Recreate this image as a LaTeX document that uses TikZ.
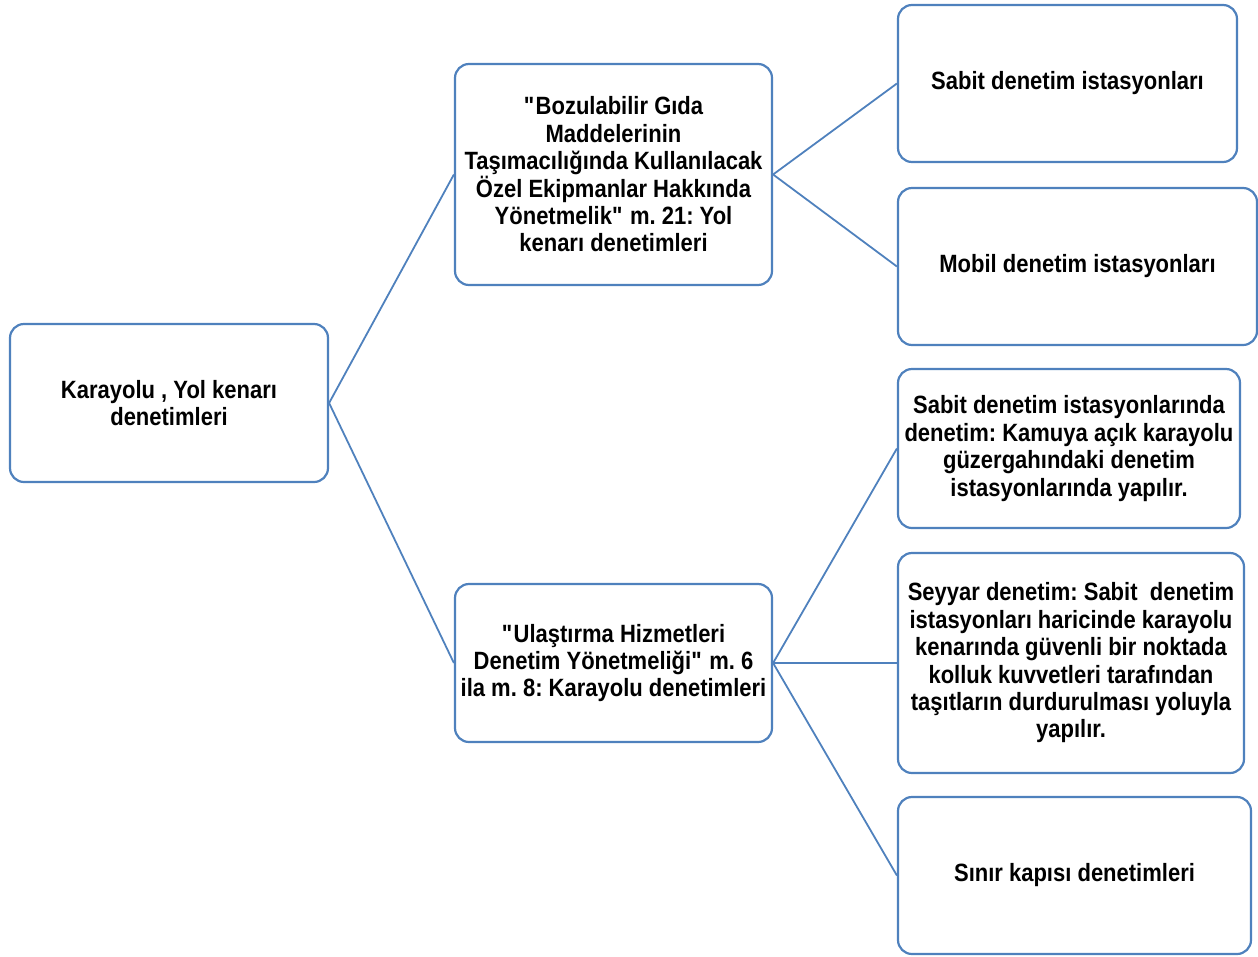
\documentclass[tikz,border=0pt]{standalone}
\usepackage{fontspec}
\setmainfont{Liberation Sans}[FakeStretch=0.88]
\definecolor{boxblue}{HTML}{4F81BD}
\newcommand{\dq}{\XeTeXglyph\the\XeTeXcharglyph"0022\relax}
\begin{document}
\frenchspacing
\begin{tikzpicture}[x=1pt,y=-1pt,
  box/.style={draw=boxblue, line width=2.2pt, rounded corners=14pt, fill=white,
    align=center, inner sep=0pt, font=\fontsize{25}{27.4}\selectfont\bfseries\frenchspacing},
  conn/.style={draw=boxblue, line width=1.8pt}]
\useasboundingbox (0,0) rectangle (1258,956);
% root
\node[box, minimum width=318pt, minimum height=158pt] (root) at (169,403)
  {Karayolu , Yol kenarı\\denetimleri};
% middle
\node[box, minimum width=317pt, minimum height=221pt] (boz) at (613.5,174.5)
  {\dq Bozulabilir Gıda\\Maddelerinin\\Taşımacılığında Kullanılacak\\Özel Ekipmanlar Hakkında\\Yönetmelik\dq{} m. 21: Yol\\kenarı denetimleri};
\node[box, minimum width=317pt, minimum height=158pt] (ula) at (613.5,663)
  {\dq Ulaştırma Hizmetleri\\Denetim Yönetmeliği\dq{} m. 6\\ila m. 8: Karayolu denetimleri};
% right
\node[box, minimum width=339pt, minimum height=157pt] (sabit) at (1067.5,83.5)
  {Sabit denetim istasyonları};
\node[box, minimum width=359pt, minimum height=157pt] (mobil) at (1077.5,266.5)
  {Mobil denetim istasyonları};
\node[box, minimum width=342pt, minimum height=159pt] (sabitd) at (1069,448.5)
  {Sabit denetim istasyonlarında\\denetim: Kamuya açık karayolu\\güzergahındaki denetim\\istasyonlarında yapılır.};
\node[box, minimum width=346pt, minimum height=220pt] (seyyar) at (1071,663)
  {Seyyar denetim: Sabit~ denetim\\istasyonları haricinde karayolu\\kenarında güvenli bir noktada\\kolluk kuvvetleri tarafından\\taşıtların durdurulması yoluyla\\yapılır.};
\node[box, minimum width=353pt, minimum height=157pt] (sinir) at (1074.5,875.5)
  {Sınır kapısı denetimleri};
% connectors
\draw[conn] (root.east) -- (boz.west);
\draw[conn] (root.east) -- (ula.west);
\draw[conn] (boz.east) -- (sabit.west);
\draw[conn] (boz.east) -- (mobil.west);
\draw[conn] (ula.east) -- (sabitd.west);
\draw[conn] (ula.east) -- (seyyar.west);
\draw[conn] (ula.east) -- (sinir.west);
\end{tikzpicture}
\end{document}
